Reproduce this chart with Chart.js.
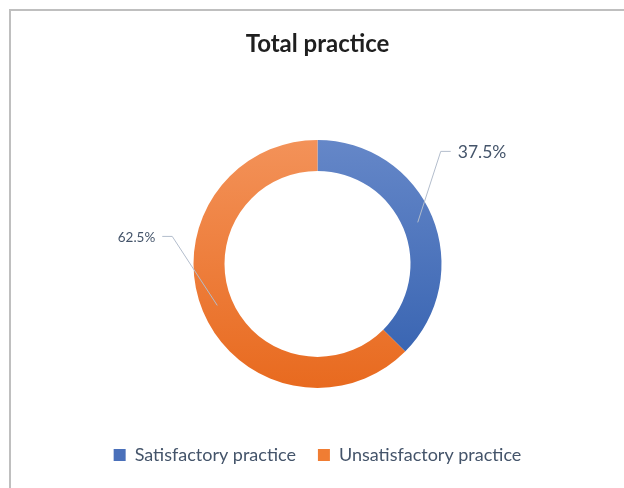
<!DOCTYPE html>
<html>
<head>
<meta charset="utf-8">
<script src="https://cdn.jsdelivr.net/npm/chart.js@4/dist/chart.umd.min.js"></script>
<style>
  html, body { margin: 0; padding: 0; background: #ffffff; }
  body { width: 624px; height: 488px; position: relative; overflow: hidden; }
  #frame { position: absolute; left: 9px; top: 9px; width: 700px; height: 600px;
           border-top: 2px solid #bfbfbf; border-left: 2px solid #bfbfbf; }
  #wrap { position: absolute; left: 0; top: 0; width: 624px; height: 488px; }
</style>
</head>
<body>
<div id="frame"></div>
<div id="wrap"><canvas id="c" width="624" height="488"></canvas></div>
<script>
// ---- data ----
const categories = ['Satisfactory practice', 'Unsatisfactory practice'];
const values = [37.5, 62.5];
const chartTitle = 'Total practice';

// ---- styles ----
const gradientStops = [['#6587c8', '#3360af'], ['#f39259', '#e86a1f']];
const legendColors = ['#4a70ba', '#f07d33'];
const labelFontSizes = [17.5, 13.5];
// leader-line elbow offsets from the slice midpoint (dx, dy)
const labelOffsets = [[23, -71], [-45, -69]];

const OUTER = 124;

const leaderPlugin = {
  id: 'leaders',
  afterDatasetsDraw(chart) {
    const ctx = chart.ctx;
    const meta = chart.getDatasetMeta(0);
    const total = values.reduce((a, b) => a + b, 0);
    meta.data.forEach((arc, i) => {
      const p = arc.getProps(['x', 'y', 'startAngle', 'endAngle', 'innerRadius', 'outerRadius'], true);
      const mid = (p.startAngle + p.endAngle) / 2;
      const r = (p.innerRadius + p.outerRadius) / 2;
      const sx = p.x + Math.cos(mid) * r;
      const sy = p.y + Math.sin(mid) * r;
      const ex = sx + labelOffsets[i][0];
      const ey = sy + labelOffsets[i][1];
      const dir = labelOffsets[i][0] >= 0 ? 1 : -1;
      const hx = ex + dir * 10;
      ctx.save();
      ctx.strokeStyle = '#b3bdcc';
      ctx.lineWidth = 1;
      ctx.beginPath();
      ctx.moveTo(sx, sy);
      ctx.lineTo(ex, ey);
      ctx.lineTo(hx, ey);
      ctx.stroke();
      ctx.fillStyle = '#44546a';
      ctx.font = labelFontSizes[i] + 'px Lato';
      ctx.textBaseline = 'middle';
      ctx.textAlign = dir > 0 ? 'left' : 'right';
      const txt = (values[i] / total * 100).toFixed(1) + '%';
      ctx.fillText(txt, hx + dir * 7, ey + 1);
      ctx.restore();
    });
  }
};

function sliceFill(c) {
  const chart = c.chart;
  const area = chart.chartArea;
  const i = c.dataIndex;
  if (!area) return legendColors[i];
  const cy = (area.top + area.bottom) / 2;
  const g = chart.ctx.createLinearGradient(0, cy - OUTER, 0, cy + OUTER);
  g.addColorStop(0, gradientStops[i][0]);
  g.addColorStop(1, gradientStops[i][1]);
  return g;
}

new Chart(document.getElementById('c'), {
  type: 'doughnut',
  data: {
    labels: categories,
    datasets: [{
      data: values,
      backgroundColor: sliceFill,
      borderWidth: 0,
      radius: OUTER
    }]
  },
  options: {
    responsive: false,
    animation: false,
    cutout: '75%',
    layout: { padding: { left: 11, right: 0, top: 0, bottom: 14 } },
    plugins: {
      tooltip: { enabled: false },
      title: {
        display: true,
        text: chartTitle,
        color: '#1f1f1f',
        font: { family: 'Lato', size: 24, weight: 'bold' },
        padding: { top: 30, bottom: 45 }
      },
      legend: {
        position: 'bottom',
        labels: {
          boxWidth: 12,
          boxHeight: 12,
          padding: 22,
          color: '#44546a',
          font: { family: 'Lato', size: 18 },
          generateLabels: () => categories.map((c, i) => ({
            text: c, fillStyle: legendColors[i], strokeStyle: legendColors[i],
            lineWidth: 0, hidden: false, index: i, fontColor: '#44546a'
          }))
        }
      }
    }
  },
  plugins: [leaderPlugin]
});
</script>
</body>
</html>
